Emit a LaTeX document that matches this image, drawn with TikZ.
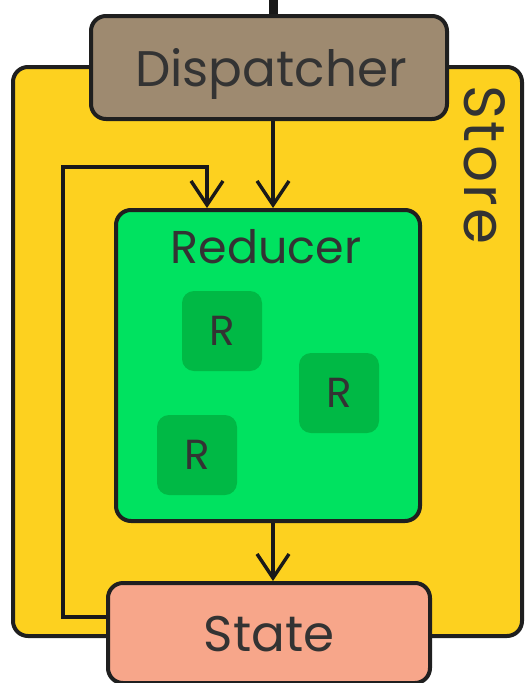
\documentclass[tikz,border=0pt]{standalone}
\usepackage{fontspec}
\setmainfont{Poppins}
\usetikzlibrary{arrows.meta}
\definecolor{storey}{HTML}{FDD11F}
\definecolor{dispb}{HTML}{9E8A70}
\definecolor{redg}{HTML}{00E260}
\definecolor{rboxg}{HTML}{00B945}
\definecolor{statep}{HTML}{F7A68A}
\definecolor{txt}{HTML}{333333}
\tikzset{
  box/.style={draw=black!88, line width=4pt, rounded corners=15pt, inner sep=0pt},
  rbox/.style={fill=rboxg, rounded corners=12pt, minimum width=80pt, minimum height=80pt, inner sep=0pt, text=txt, font=\fontsize{42}{42}\selectfont},
  flow/.style={draw=black!90, line width=3.6pt, -{Straight Barb[length=24pt,width=32pt,line width=3.4pt]}},
  lbl/.style={text=txt}
}
\begin{document}
\begin{tikzpicture}[x=1pt,y=-1pt]
\useasboundingbox (0,0) rectangle (525,683);
% store
\node[box, fill=storey, minimum width=509pt, minimum height=569pt] (store) at (267.5,351.5) {};
\node[lbl, rotate=-90, font=\fontsize{58}{58}\selectfont\addfontfeatures{LetterSpace=4}] (storelbl) at (485,165) {Store};
% dispatcher
\coordinate (top) at (273,-2);
\draw[line width=9pt, black!90] (top) -- (273,18);
\node[box, fill=dispb, minimum width=356pt, minimum height=103pt] (disp) at (269,67.5) {};
\node[lbl, anchor=base, font=\fontsize{50}{50}\selectfont] (displbl) at (271,86) {Dispatcher};
% reducer
\node[box, fill=redg, minimum width=304pt, minimum height=311pt] (red) at (268,365.5) {};
\node[lbl, anchor=base, font=\fontsize{46}{46}\selectfont] (redlbl) at (266,263) {Reducer};
\node[rbox] (r1) at (222,331) {R};
\node[rbox] (r2) at (339,393) {R};
\node[rbox] (r3) at (197,455) {R};
% state
\node[box, fill=statep, minimum width=322pt, minimum height=100pt] (state) at (269,633) {};
\node[lbl, anchor=base, font=\fontsize{50}{50}\selectfont] (statelbl) at (269,651) {State};
% connectors
\draw[flow] (disp.south -| 273,0) -- (red.north -| 273,0);
\draw[flow] (red.south -| 273,0) -- (state.north -| 273,0);
\coordinate (l1) at (63,617);
\coordinate (l2) at (63,167);
\coordinate (l3) at (207,167);
\draw[flow] (state.west |- 0,617) -- (l1) -- (l2) -- (l3) -- (red.north -| 207,0);
\end{tikzpicture}
\end{document}
